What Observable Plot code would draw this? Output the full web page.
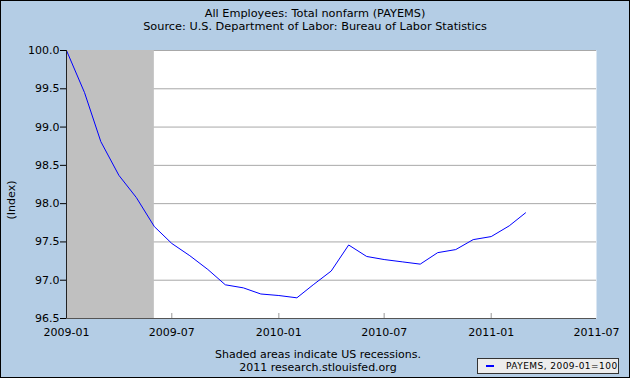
<!DOCTYPE html>
<html>
<head>
<meta charset="utf-8">
<script src="https://cdn.jsdelivr.net/npm/d3@7"></script>
<script src="https://cdn.jsdelivr.net/npm/@observablehq/plot@0.6"></script>
<style>
  html, body { margin: 0; padding: 0; background: #fff; }
  #wrap { position: relative; width: 630px; height: 378px; background: #B4CDE5; overflow: hidden; font-family: "DejaVu Sans", Verdana, sans-serif; color: #000; }
  #wrap svg { position: absolute; left: 0; top: 0; }
  .title { position: absolute; left: 0; width: 630px; text-align: center; font-size: 11.3px; line-height: 13px; }
  .foot { position: absolute; left: 0; width: 636px; text-align: center; font-size: 11px; line-height: 13px; }
  #ylab { position: absolute; left: 11px; top: 200px; font-size: 11px; transform: translate(-50%, -50%) rotate(-90deg); white-space: nowrap; }
  #legend { position: absolute; left: 477px; top: 358px; width: 140px; height: 14px; background: #EDEDED; border: 1px solid #333; font-size: 9px; line-height: 14px; letter-spacing: 0.45px; }
  #legend .sw { position: absolute; left: 8px; top: 6px; width: 8px; height: 2px; background: #0000FF; }
  #legend .tx { position: absolute; left: 28px; top: 0; white-space: nowrap; }
  #border { position: absolute; left: 0; top: 0; width: 630px; height: 378px; box-sizing: border-box; border: 1px solid #000; pointer-events: none; }
</style>
</head>
<body>
<div id="wrap">
  <div class="title" style="top:7px">All Employees: Total nonfarm (PAYEMS)</div>
  <div class="title" style="top:20px">Source: U.S. Department of Labor: Bureau of Labor Statistics</div>
  <div id="ylab">(Index)</div>
  <div class="foot" style="top:348px">Shaded areas indicate US recessions.</div>
  <div class="foot" style="top:361px">2011 research.stlouisfed.org</div>
  <div id="legend"><div class="sw"></div><div class="tx">PAYEMS, 2009-01=100</div></div>
  <div id="border"></div>
</div>
<script>
const months = ["2009-01","2009-02","2009-03","2009-04","2009-05","2009-06","2009-07","2009-08","2009-09","2009-10","2009-11","2009-12",
                "2010-01","2010-02","2010-03","2010-04","2010-05","2010-06","2010-07","2010-08","2010-09","2010-10","2010-11","2010-12",
                "2011-01","2011-02","2011-03"];
const payems = [100.0, 99.45, 98.81, 98.37, 98.08, 97.70, 97.48, 97.32, 97.14, 96.94, 96.90, 96.82,
                96.80, 96.77, 96.94, 97.12, 97.46, 97.31, 97.27, 97.24, 97.21, 97.36, 97.40, 97.53,
                97.57, 97.71, 97.88];
const xTickLabels = ["2009-01","2009-07","2010-01","2010-07","2011-01","2011-07"];
const yTickValues = [96.5, 97.0, 97.5, 98.0, 98.5, 99.0, 99.5, 100.0];
const recessions = [{start: "2009-01", end: "2009-06"}];

const parse = d3.utcParse("%Y-%m");
const data = months.map((m, i) => ({date: parse(m), value: payems[i]}));
const xTicks = xTickLabels.map(parse);
const rec = recessions.map(r => ({x1: parse(r.start), x2: parse(r.end)}));

const chart = Plot.plot({
  width: 630,
  height: 378,
  marginLeft: 66,
  marginRight: 34,
  marginTop: 50,
  marginBottom: 60,
  style: {background: "transparent", fontFamily: "DejaVu Sans, Verdana, sans-serif", fontSize: "11px", color: "#000"},
  x: {type: "utc", domain: [xTicks[0], xTicks[xTicks.length - 1]]},
  y: {domain: [yTickValues[0], yTickValues[yTickValues.length - 1]]},
  marks: [
    Plot.frame({fill: "white", stroke: null}),
    Plot.ruleY(yTickValues.slice(1), {stroke: "#A8A8A8", strokeWidth: 1}),
    Plot.rect(rec, {x1: "x1", x2: "x2", fill: "#C0C0C0"}),
    Plot.ruleX(xTicks.slice(1, -1), {stroke: "#999", insetTop: 263}),
    Plot.line(data, {x: "date", y: "value", stroke: "#0000FF", strokeWidth: 1}),
    Plot.ruleY([yTickValues[0]], {stroke: "#555"}),
    Plot.ruleX([xTicks[0]], {stroke: "#222"}),
    Plot.axisY({ticks: yTickValues, tickFormat: d3.format(".1f"), tickSize: 6, tickPadding: 1, label: null, fontSize: 11}),
    Plot.axisX({ticks: xTicks, tickFormat: d3.utcFormat("%Y-%m"), tickSize: 0, tickPadding: 10, label: null, fontSize: 11})
  ]
});
document.getElementById("wrap").insertBefore(chart, document.getElementById("wrap").firstChild);
</script>
</body>
</html>
